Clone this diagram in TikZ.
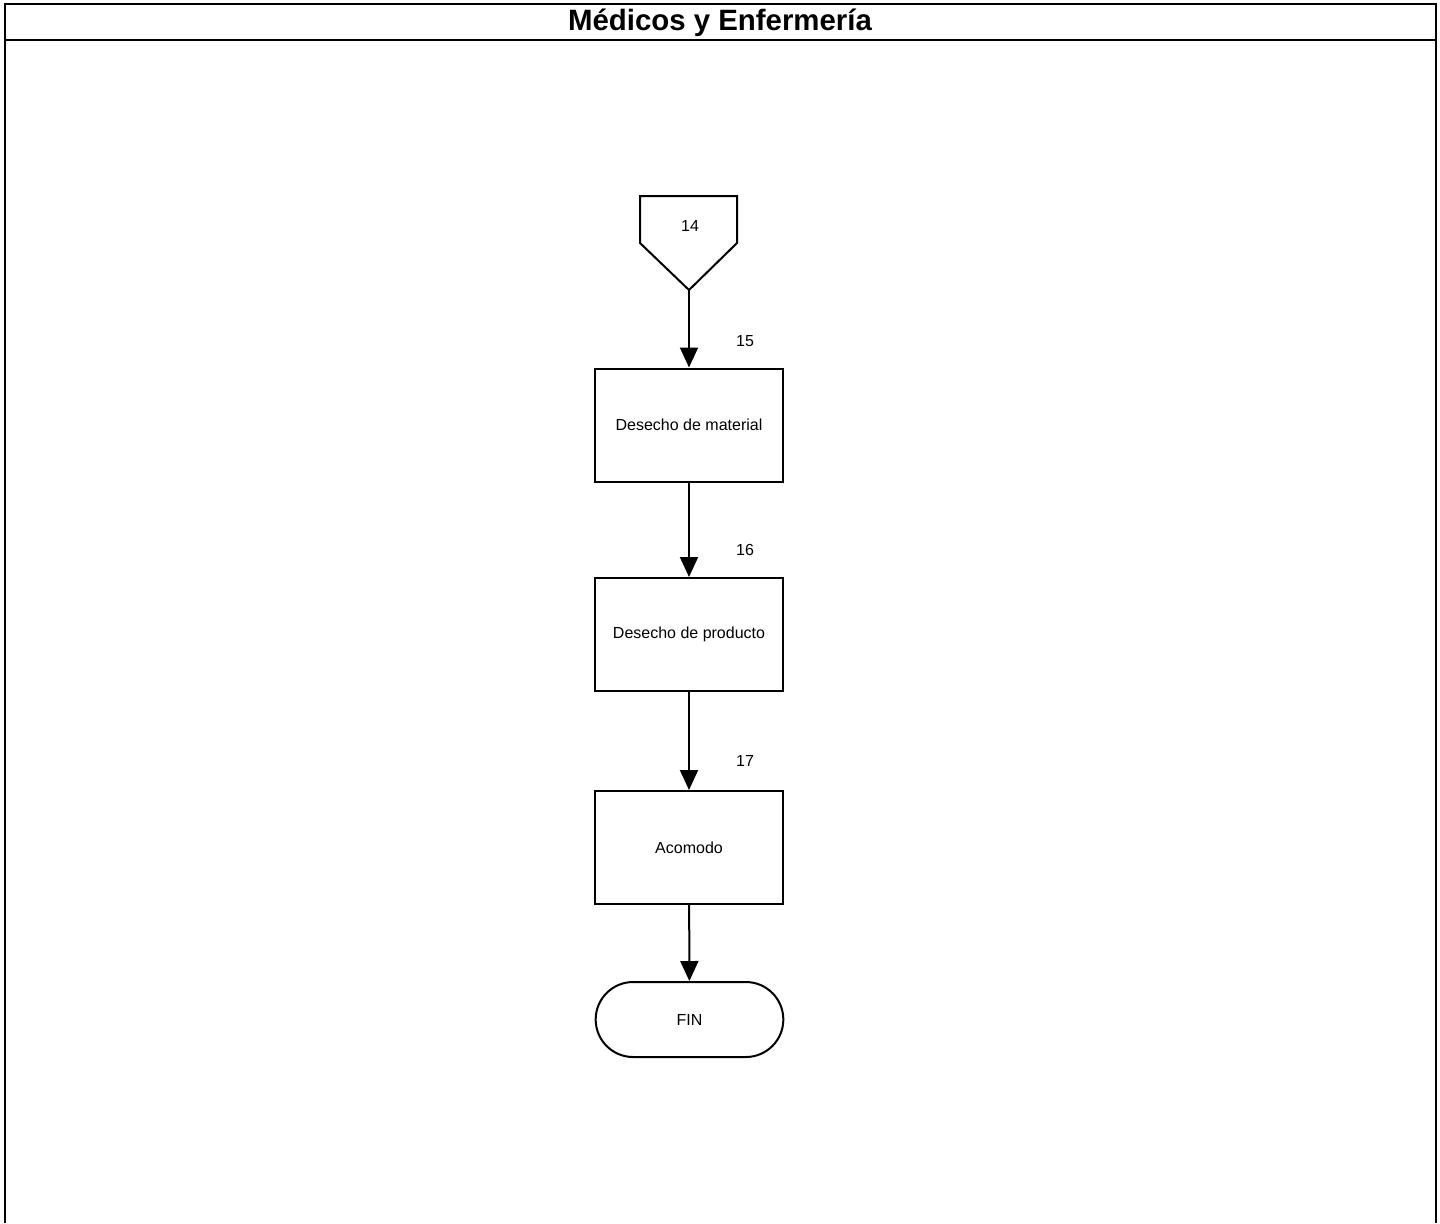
\documentclass[tikz,border=0pt]{standalone}
\usepackage{fontspec}
\setmainfont{Liberation Sans}
\usetikzlibrary{arrows.meta, shapes.misc}

\begin{document}
\begin{tikzpicture}[x=0.5pt, y=-0.5pt, line width=1pt, line join=miter,
    proceso/.style={draw, rectangle, minimum width=94pt, minimum height=56.5pt, font=\fontsize{8}{10}\selectfont},
    terminal/.style={draw, rounded rectangle, minimum width=100.5pt, minimum height=37.5pt, font=\fontsize{8}{10}\selectfont},
    paso/.style={font=\fontsize{8}{10}\selectfont},
    flujo/.style={-{Triangle[length=10pt, width=9pt]}}]
    \useasboundingbox (0,0) rectangle (1440,1223);

    % marco y encabezado
    \draw[line width=0.6pt] (5,1223) -- (5,4) -- (1436,4) -- (1436,1223);
    \draw[line width=0.6pt] (5,40) -- (1436,40);
    \node[font=\bfseries\fontsize{14.7}{17}\selectfont] (titulo) at (720,23) {Médicos y Enfermería};

    % conector de página
    \draw (640,196) -- (737,196) -- (737,243) -- (689,290) -- (640,243) -- cycle;
    \node[paso] (c14) at (690,226) {14};
    \coordinate (c14pie) at (689,290);

    % actividades
    \node[proceso] (a15) at (689,425) {Desecho de material};
    \node[proceso] (a16) at (689,634.5) {Desecho de producto};
    \node[proceso] (a17) at (689,847.5) {Acomodo};
    \node[terminal] (fin) at (689.5,1019.5) {FIN};

    % números de paso
    \foreach \n/\y in {15/341, 16/550, 17/761}
        \node[paso] (n\n) at (745,\y) {\n};

    % flechas
    \draw[flujo] (c14pie) -- (a15.north);
    \draw[flujo] (a15) -- (a16);
    \draw[flujo] (a16) -- (a17);
    \draw[flujo] (a17) -- (fin);
\end{tikzpicture}
\end{document}
